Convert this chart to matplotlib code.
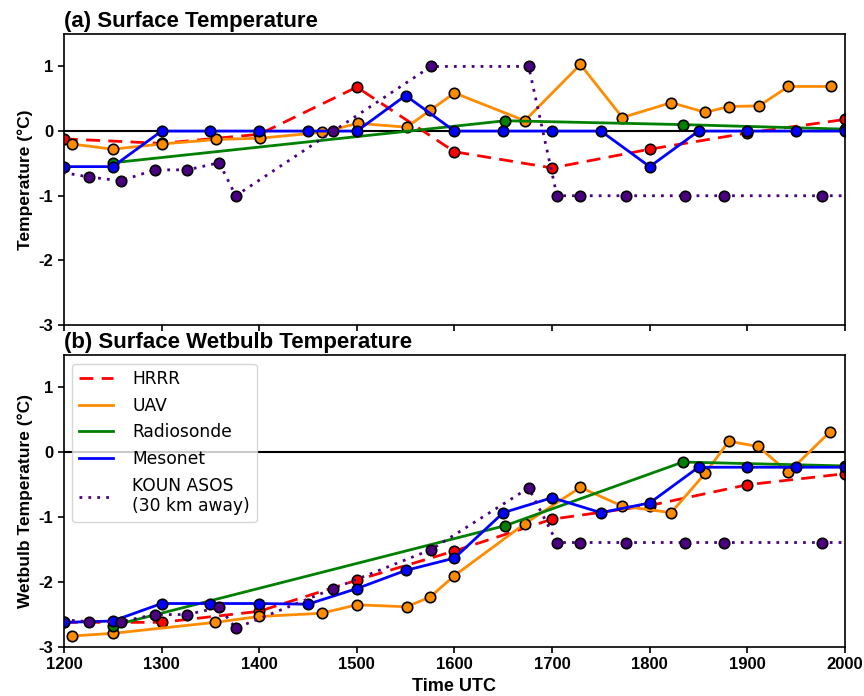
import matplotlib
matplotlib.use("Agg")
import matplotlib.pyplot as plt
from matplotlib.lines import Line2D

plt.rcParams["axes.unicode_minus"] = False

# ---------------- data ----------------
hrrr_t = [1200, 1300, 1400, 1500, 1600, 1700, 1800, 1900, 2000]
hrrr_a = [-0.12, -0.19, -0.05, 0.68, -0.32, -0.57, -0.28, -0.03, 0.18]
hrrr_b = [-2.62, -2.62, -2.45, -1.97, -1.52, -1.03, -0.82, -0.50, -0.33]

uav_t_a = [1208, 1250, 1300, 1356, 1401, 1464, 1501, 1551, 1575, 1600,
           1672, 1729, 1772, 1822, 1857, 1881, 1912, 1942, 1986]
uav_a = [-0.20, -0.28, -0.20, -0.13, -0.11, -0.02, 0.12, 0.06, 0.32, 0.59,
         0.16, 1.03, 0.21, 0.44, 0.29, 0.38, 0.39, 0.69, 0.69]
uav_t_b = [1208, 1250, 1355, 1400, 1464, 1500, 1551, 1575, 1600,
           1672, 1729, 1772, 1822, 1857, 1881, 1911, 1942, 1985]
uav_b = [-2.83, -2.79, -2.62, -2.53, -2.48, -2.35, -2.38, -2.23, -1.90,
         -1.10, -0.54, -0.83, -0.93, -0.32, 0.17, 0.09, -0.31, 0.32]

sonde_t = [1250, 1652, 1834, 2000]
sonde_a = [-0.49, 0.16, 0.10, 0.03]
sonde_b = [-2.67, -1.13, -0.15, -0.21]

meso_t = [1200, 1250, 1300, 1350, 1400, 1450, 1500, 1550, 1600,
          1650, 1700, 1750, 1800, 1850, 1900, 1950, 2000]
meso_a = [-0.55, -0.55, 0, 0, 0, 0, 0, 0.55, 0, 0, 0, 0, -0.55, 0, 0, 0, 0]
meso_b = [-2.62, -2.60, -2.33, -2.33, -2.33, -2.34, -2.10, -1.82, -1.63,
          -0.93, -0.70, -0.93, -0.78, -0.23, -0.23, -0.23, -0.23]

koun_t = [1190, 1226, 1258, 1293, 1326, 1359, 1376, 1476, 1576, 1676,
          1705, 1729, 1776, 1836, 1876, 1976, 2010]
koun_a = [-0.62, -0.71, -0.77, -0.60, -0.60, -0.49, -1.00, 0.00, 1.00, 1.00,
          -1.00, -1.00, -1.00, -1.00, -1.00, -1.00, -1.00]
koun_b = [-2.57, -2.61, -2.61, -2.50, -2.50, -2.39, -2.71, -2.10, -1.50, -0.55,
          -1.39, -1.39, -1.39, -1.39, -1.39, -1.39, -1.39]

x_ticks = [1200, 1300, 1400, 1500, 1600, 1700, 1800, 1900, 2000]
y_ticks = [-3, -2, -1, 0, 1]

names = ["HRRR", "UAV", "Radiosonde", "Mesonet", "KOUN ASOS\n(30 km away)"]
colors = ["#ff0000", "#ff8c00", "#008000", "#0000ff", "#4b0082"]
styles = [(0, (5, 3)), "-", "-", "-", (0, (1, 2.2))]

# ---------------- figure ----------------
lab_font = "Liberation Sans"
fig = plt.figure(figsize=(8.64, 6.96), dpi=100)
ax1 = fig.add_axes([0.074, 0.533, 0.904, 0.418])
ax2 = fig.add_axes([0.074, 0.0704, 0.904, 0.4196])

series_a = [(hrrr_t, hrrr_a), (uav_t_a, uav_a), (sonde_t, sonde_a),
            (meso_t, meso_a), (koun_t, koun_a)]
series_b = [(hrrr_t, hrrr_b), (uav_t_b, uav_b), (sonde_t, sonde_b),
            (meso_t, meso_b), (koun_t, koun_b)]

for ax, series in ((ax1, series_a), (ax2, series_b)):
    ax.axhline(0, color="black", lw=1.5, zorder=1)
    for (t, v), c, ls in zip(series, colors, styles):
        ax.plot(t, v, color=c, ls=ls, lw=2, marker="o", ms=7.5,
                mfc=c, mec="black", mew=1.2, zorder=2)
    ax.set_xlim(1200, 2000)
    ax.set_ylim(-3, 1.5)
    ax.set_xticks(x_ticks)
    ax.set_yticks(y_ticks)
    ax.set_yticklabels([str(y) for y in y_ticks], fontfamily=lab_font,
                       fontweight="bold", fontsize=12)
    for sp in ax.spines.values():
        sp.set_linewidth(1.2)
    ax.tick_params(labelsize=12, width=1.2, length=4)

ax1.set_xticklabels([])
ax2.set_xticklabels([str(x) for x in x_ticks], fontfamily=lab_font,
                    fontweight="bold", fontsize=12)

ax1.set_title("(a) Surface Temperature", loc="left", fontfamily=lab_font,
              fontweight="bold", fontsize=16, pad=5)
ax2.set_title("(b) Surface Wetbulb Temperature", loc="left",
              fontfamily=lab_font, fontweight="bold", fontsize=16, pad=5)
ax1.set_ylabel("Temperature (°C)", fontfamily=lab_font, fontweight="bold",
               fontsize=12.5)
ax2.set_ylabel("Wetbulb Temperature (°C)", fontfamily=lab_font,
               fontweight="bold", fontsize=12.5)
ax2.set_xlabel("Time UTC", fontfamily=lab_font, fontweight="bold",
               fontsize=13, labelpad=4)

handles = [Line2D([0], [0], color=c, ls=ls, lw=2) for c, ls in zip(colors, styles)]
ax2.legend(handles, names, loc="upper left", handletextpad=1.1,
           prop={"family": "DejaVu Sans", "size": 12.3})

fig.savefig("out.png", dpi=100)
